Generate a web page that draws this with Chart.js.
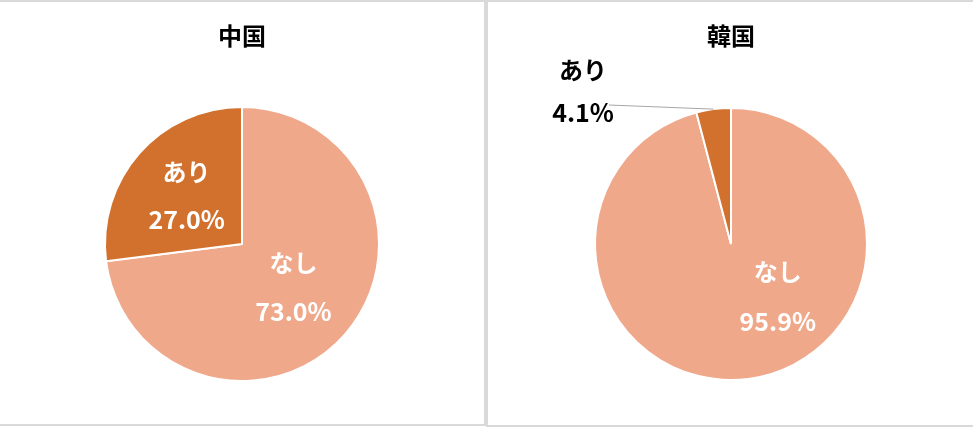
<!DOCTYPE html>
<html><head><meta charset="utf-8">
<script src="https://cdn.jsdelivr.net/npm/chart.js@4.4.1/dist/chart.umd.min.js"></script>
<style>
html,body{margin:0;padding:0;background:#fff;width:973px;height:427px;overflow:hidden;position:relative}
.panel{position:absolute;box-sizing:border-box;border:2px solid #d9d9d9;background:#fff}
canvas{position:absolute}
</style></head><body>
<div class="panel" style="left:-2px;top:0;width:488px;height:426px"></div>
<div class="panel" style="left:486px;top:0;width:490px;height:427px"></div>
<canvas id="c1" width="485" height="424" style="left:0;top:0"></canvas>
<canvas id="c2" width="485" height="424" style="left:488px;top:0"></canvas>
<script>
const categories = ["なし", "あり"];
const chinaValues = [73.0, 27.0];
const koreaValues = [95.9, 4.1];
const titles = ["中国", "韓国"];
const colors = ["#F0A88A", "#D2712E"];

const FONT = '"Noto Sans CJK JP", "Noto Sans", sans-serif';

function labelPlugin(title, cfg) {
  return {
    id: 'lbl',
    afterDraw(chart) {
      const ctx = chart.ctx;
      const meta = chart.getDatasetMeta(0);
      ctx.save();
      ctx.fillStyle = '#000';
      ctx.font = 'bold 24px ' + FONT;
      ctx.textAlign = 'center';
      ctx.textBaseline = 'middle';
      ctx.fillText(title, cfg.titleX, 36);
      const vals = chart.data.datasets[0].data;
      meta.data.forEach((arc, i) => {
        const p = arc.getProps(['x','y','startAngle','endAngle','outerRadius'], true);
        const mid = (p.startAngle + p.endAngle) / 2;
        const c = cfg.labels[i];
        let lx, ly;
        if (c.outside) {
          lx = c.x; ly = c.y;
          const ex = p.x + Math.cos(mid) * p.outerRadius;
          const ey = p.y + Math.sin(mid) * p.outerRadius;
          ctx.strokeStyle = '#a6a6a6';
          ctx.lineWidth = 1;
          ctx.beginPath();
          ctx.moveTo(c.lineX, c.lineY);
          ctx.lineTo(ex, ey);
          ctx.stroke();
          ctx.fillStyle = '#000';
        } else {
          lx = p.x + Math.cos(mid) * p.outerRadius * c.f + (c.dx || 0);
          ly = p.y + Math.sin(mid) * p.outerRadius * c.f + (c.dy || 0);
          ctx.fillStyle = '#fff';
        }
        ctx.font = 'bold 24px ' + FONT;
        ctx.fillText(categories[i], lx, ly - (c.gap || 24));
        ctx.font = 'bold 25px ' + FONT;
        ctx.fillText(vals[i].toFixed(1) + '%', lx, ly + (c.gap || 24));
      });
      ctx.restore();
    }
  };
}

function makePie(id, values, title, pad, cfg) {
  new Chart(document.getElementById(id), {
    type: 'pie',
    data: {
      labels: categories,
      datasets: [{
        data: values,
        backgroundColor: colors,
        borderColor: '#ffffff',
        borderWidth: 2
      }]
    },
    options: {
      responsive: false,
      animation: false,
      layout: { padding: pad },
      plugins: { legend: { display: false }, tooltip: { enabled: false }, title: { display: false } }
    },
    plugins: [labelPlugin(title, cfg)]
  });
}

makePie('c1', chinaValues, titles[0], {left: 104, right: 105, top: 106, bottom: 42}, {
  titleX: 242,
  labels: [{f: 0.5, dx: 0, dy: -2}, {f: 0.5, dx: -4, dy: -3}]
});
makePie('c2', koreaValues, titles[1], {left: 106, right: 105, top: 106, bottom: 42}, {
  titleX: 243,
  labels: [{f: 0.5, dx: 38, dy: -15, gap: 25}, {outside: true, x: 95, y: 91, lineX: 121, lineY: 105, gap: 21}]
});
</script>
</body></html>
